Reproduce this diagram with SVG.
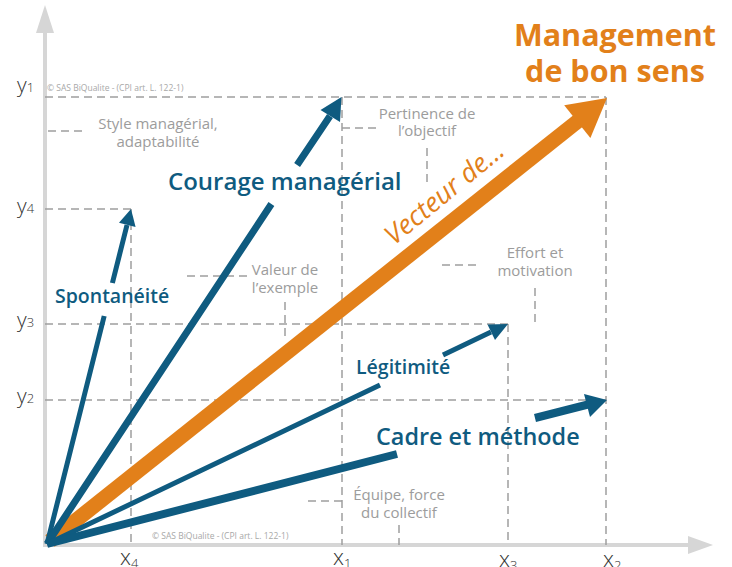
<svg xmlns="http://www.w3.org/2000/svg" width="732" height="567" viewBox="0 0 732 567">
<style>
.axis{stroke:#d6d6d6;stroke-width:4;fill:none}
.axhead{fill:#d6d6d6}
.dash{stroke:#9e9e9e;stroke-width:1.5;stroke-dasharray:8 5;fill:none}
.teal{stroke:#0f5b80;fill:none;stroke-linecap:butt}
.tealh{fill:#0f5b80}
.lbl{font-family:"Open Sans","Liberation Sans",sans-serif;fill:#0f5b80;font-weight:600}
.gray{font-family:"Open Sans","Liberation Sans",sans-serif;fill:#9c9c9c;font-size:15px;text-anchor:middle}
.copy{font-family:"Open Sans","Liberation Sans",sans-serif;fill:#a8a8a8;font-size:8.5px}
.ax{font-family:"Open Sans","Liberation Sans",sans-serif;fill:#333;font-weight:300}
</style>
<rect width="732" height="567" fill="#fff"/>
<g id="axes">
<path class="axis" d="M45,547 V30"/>
<polygon class="axhead" points="45,5 36,33 54,33"/>
<path class="axis" d="M43,545 H690"/>
<polygon class="axhead" points="713,545 688,536 688,554"/>
</g>
<g id="guides">
<path class="dash" d="M45,97 H606 M606,97 V545 M45,209 H131 M131,209 V545 M45,324 H508 M508,324 V545 M45,400 H606 M342,97 V545"/>
<path class="dash" d="M48,131 H84 M342,128 H377 M427,148 V185 M187,276 H250 M285,302 V338 M442,265 H480 M535,288 V325 M308,501 H342 M399,525 V545"/>
</g>
<g id="axis-labels">
<text class="ax" x="17" y="92" font-size="21">y<tspan font-size="13">1</tspan></text>
<text class="ax" x="17" y="213" font-size="21">y<tspan font-size="13">4</tspan></text>
<text class="ax" x="17" y="327" font-size="21">y<tspan font-size="13">3</tspan></text>
<text class="ax" x="17" y="403" font-size="21">y<tspan font-size="13">2</tspan></text>
<text class="ax" x="120" y="565" font-size="22">x<tspan font-size="13" dy="3">4</tspan></text>
<text class="ax" x="333" y="565" font-size="22">x<tspan font-size="13" dy="3">1</tspan></text>
<text class="ax" x="499" y="567" font-size="22">x<tspan font-size="13" dy="3">3</tspan></text>
<text class="ax" x="603" y="567" font-size="22">x<tspan font-size="13" dy="3">2</tspan></text>
</g>
<g id="copyright">
<text class="copy" x="47" y="91">© SAS BiQualite - (CPI art. L. 122-1)</text>
<text class="copy" x="152" y="539">© SAS BiQualite - (CPI art. L. 122-1)</text>
</g>
<g id="connectors">
<g id="vecteur">
<path d="M50,541 L578,121" stroke="#e2801a" stroke-width="15" fill="none"/>
<polygon points="607,98 590.4,138.1 564.2,105.3" fill="#e2801a"/>
</g>
<g id="spontaneite-arrow">
<path class="teal" stroke-width="5" d="M47,544 L104.2,316 M112.4,283 L127,225"/>
<polygon class="tealh" points="131,209 135.6,227 119,222.8"/>
</g>
<g id="courage-arrow">
<path class="teal" stroke-width="7" d="M47,544 L271.4,204 M297.1,165 L330,116"/>
<polygon class="tealh" points="341.5,97 340,122 320.5,110"/>
</g>
<g id="legitimite-arrow">
<path class="teal" stroke-width="5" d="M47,544 L380,385 M443,355 L491,332"/>
<polygon class="tealh" points="508,324 495,340 487.5,324.5"/>
</g>
<g id="cadre-arrow">
<path class="teal" stroke-width="8" d="M47,544 L397,454 M535,418 L588,404.5"/>
<polygon class="tealh" points="607,400 590,417 584,394"/>
</g>
</g>
<g id="node-management">
<text font-family="'Open Sans','Liberation Sans',sans-serif" font-weight="700" font-size="30.5" fill="#e2801a" text-anchor="middle"><tspan x="615" y="46">Management</tspan><tspan x="615" y="82">de bon sens</tspan></text>
</g>
<g id="node-vecteur-label">
<text transform="translate(394,246) rotate(-39.5)" font-family="'Open Sans','Liberation Sans',sans-serif" font-style="italic" font-weight="500" font-size="27" fill="#e2801a">Vecteur de...</text>
</g>
<g id="node-courage"><text class="lbl" x="168" y="190" font-size="24">Courage managérial</text></g>
<g id="node-spontaneite"><text class="lbl" x="55" y="303" font-size="19.5">Spontanéité</text></g>
<g id="node-legitimite"><text class="lbl" x="356" y="374" font-size="19.5">Légitimité</text></g>
<g id="node-cadre"><text class="lbl" x="376" y="445" font-size="23.4">Cadre et méthode</text></g>
<g id="node-style"><text class="gray"><tspan x="158" y="129">Style managérial,</tspan><tspan x="158" y="147">adaptabilité</tspan></text></g>
<g id="node-pertinence"><text class="gray"><tspan x="427" y="119">Pertinence de</tspan><tspan x="427" y="136">l’objectif</tspan></text></g>
<g id="node-valeur"><text class="gray"><tspan x="285" y="275">Valeur de</tspan><tspan x="285" y="293">l’exemple</tspan></text></g>
<g id="node-effort"><text class="gray"><tspan x="535" y="258">Effort et</tspan><tspan x="535" y="276">motivation</tspan></text></g>
<g id="node-equipe"><text class="gray"><tspan x="399" y="500">Équipe, force</tspan><tspan x="399" y="518">du collectif</tspan></text></g>
</svg>
